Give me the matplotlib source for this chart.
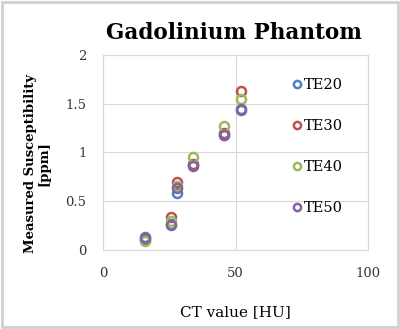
import matplotlib
matplotlib.use("Agg")
import matplotlib.pyplot as plt

ct_values = [16, 25.5, 28, 34, 45.5, 52]
te20 = [0.13, 0.27, 0.58, 0.87, 1.18, 1.44]
te30 = [0.10, 0.34, 0.70, 0.88, 1.20, 1.63]
te40 = [0.09, 0.30, 0.66, 0.95, 1.27, 1.55]
te50 = [0.12, 0.26, 0.64, 0.86, 1.18, 1.45]
series_names = ["TE20", "TE30", "TE40", "TE50"]
colors = ["#4F81BD", "#C0504D", "#9BBB59", "#8064A2"]
x_ticks = [0, 50, 100]
y_ticks = [0, 0.5, 1, 1.5, 2]
y_tick_labels = ["0", "0.5", "1", "1.5", "2"]

plt.rcParams['font.family'] = ['DejaVu Serif']
fig = plt.figure(figsize=(4, 3.29), dpi=100)
fig.patch.set_facecolor("white")
ax = fig.add_axes([0.2575, 0.24, 0.6625, 0.593])

for name, vals, c in zip(series_names, [te20, te30, te40, te50], colors):
    ax.plot(ct_values, vals, linestyle="none", marker="o", markersize=6.5,
            markerfacecolor="none", markeredgecolor=c, markeredgewidth=1.8,
            label=name)

ax.set_xlim(0, 100)
ax.set_ylim(0, 2)
ax.set_xticks(x_ticks)
ax.set_yticks(y_ticks)
ax.set_yticklabels(y_tick_labels)
ax.tick_params(length=0, labelsize=9.5, colors="#333333")
ax.tick_params(axis="x", pad=12)
ax.tick_params(axis="y", pad=12)
ax.grid(True, color="#d9d9d9", linewidth=0.8)
ax.set_axisbelow(True)
for s in ax.spines.values():
    s.set_color("#d9d9d9")

ax.set_xlabel("CT value [HU]", fontsize=11, labelpad=18)
ax.set_ylabel("Measured Susceptibility\n[ppm]", fontsize=9.5, fontweight="bold",
              linespacing=1.0)
ax.yaxis.set_label_coords(-0.2, 0.445)
fig.text(0.585, 0.9, "Gadolinium Phantom", ha="center", va="center",
         fontsize=15.5, fontweight="bold")

ax.legend(loc="upper left", bbox_to_anchor=(0.66, 0.95), frameon=False,
          fontsize=10.5, labelspacing=1.85, handletextpad=0.1, handlelength=0.8,
          markerscale=0.8)

border = plt.Rectangle((0.004, 0.005), 0.992, 0.99, transform=fig.transFigure,
                       fill=False, edgecolor="#d0d0d0", linewidth=2)
fig.patches.append(border)

fig.savefig("out.png", dpi=100)
